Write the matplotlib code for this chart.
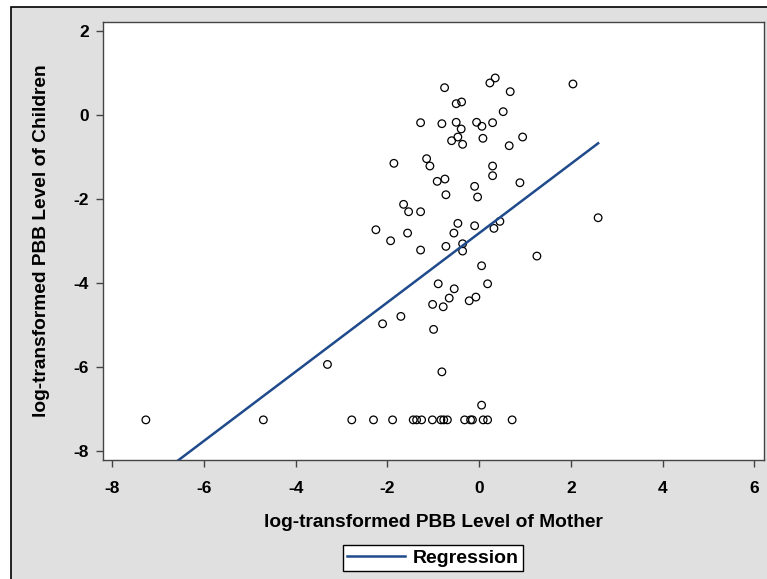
import matplotlib
matplotlib.use('Agg')
import matplotlib.pyplot as plt
from matplotlib.patches import Rectangle
import numpy as np

matplotlib.rcParams['font.family'] = ['Liberation Sans', 'DejaVu Sans']

# log-transformed PBB level of mother (x) and of child (y)
mother = [-0.755, 0.233, 0.349, 0.676, 2.044, -0.502, -0.384, 0.523,
          -1.278, -0.814, -0.502, -0.393, -0.057, 0.059, 0.292,
          -0.465, -0.602, -0.362, 0.081, 0.654, 0.947,
          -1.860, -1.147, -1.075, 0.292, 0.292, -0.748, -0.916,
          -0.100, -0.035, -0.726, 0.888,
          -1.649, -1.540, -1.278, -0.465, -0.100, 0.451, 0.321,
          -0.552, -1.562, -1.932, -2.253, -0.726, -0.362, -1.278,
          -0.362, 1.258, 2.593,
          0.052, -0.894, -0.545, 0.183, -0.654, -1.016, -0.785,
          -0.218, -0.072, -1.708, -2.107, -0.995, -0.814, -3.309, 0.052,
          -7.269, -4.707, -2.779, -2.305, -1.889, -1.439, -1.365, -1.256,
          -1.021, -0.835, -0.774, -0.694, -0.318, -0.188, -0.148, 0.087,
          0.183, 0.718]
children = [0.650, 0.762, 0.881, 0.555, 0.738, 0.269, 0.310, 0.079,
            -0.183, -0.207, -0.174, -0.333, -0.174, -0.269, -0.183,
            -0.524, -0.612, -0.698, -0.555, -0.731, -0.524,
            -1.150, -1.040, -1.214, -1.214, -1.445, -1.524, -1.579,
            -1.698, -1.952, -1.898, -1.612,
            -2.126, -2.302, -2.302, -2.579, -2.636, -2.531, -2.698,
            -2.810, -2.810, -2.993, -2.731, -3.126, -3.064, -3.214,
            -3.238, -3.357, -2.445,
            -3.588, -4.017, -4.136, -4.017, -4.357, -4.507, -4.564,
            -4.421, -4.333, -4.793, -4.969, -5.102, -6.112, -5.936, -6.905,
            -7.255, -7.255, -7.255, -7.255, -7.255, -7.255, -7.255, -7.255,
            -7.255, -7.255, -7.255, -7.255, -7.255, -7.255, -7.255, -7.255,
            -7.255, -7.255]

fit_intercept = -2.81
fit_slope = 0.824

xticks = [-8, -6, -4, -2, 0, 2, 4, 6]
yticks = [-8, -6, -4, -2, 0, 2]

W, H = 767, 579
fig = plt.figure(figsize=(W / 100, H / 100), dpi=100, facecolor='white')

# grey graph background with black border
bg = Rectangle((11 / W, -0.1), 1.2, 1 - 7 / H + 0.1, transform=fig.transFigure,
               facecolor='#e0e0e0', edgecolor='black', linewidth=1.2, zorder=-5)
fig.patches.append(bg)

ax = fig.add_axes([102.7 / W, 1 - 460 / H, (764 - 102.7) / W, (460 - 21.7) / H])
ax.set_facecolor('white')

ax.scatter(mother, children, s=30, facecolors='none', edgecolors='black',
           linewidths=0.9, zorder=3)

xs = np.array([min(mother), max(mother)])
line, = ax.plot(xs, fit_intercept + fit_slope * xs, color='#1f4a8c', lw=1.8,
                zorder=4, label='Regression')

ax.set_xlim(-8.21, 6.21)
ax.set_ylim(-8.21, 2.22)
ax.set_xticks(xticks)
ax.set_yticks(yticks)
ax.set_xticklabels([str(t) for t in xticks], fontsize=12.5, fontweight='bold')
ax.set_yticklabels([str(t) for t in yticks], fontsize=12.5, fontweight='bold')
ax.tick_params(direction='out', length=5, width=1, color='#444444')
ax.tick_params(axis='x', pad=10)
ax.tick_params(axis='y', pad=5)
for s in ax.spines.values():
    s.set_color('#444444')
    s.set_linewidth(1)

ax.set_xlabel('log-transformed PBB Level of Mother', fontsize=13.8, fontweight='bold', labelpad=13)
ax.set_ylabel('log-transformed PBB Level of Children', fontsize=13.8, fontweight='bold', labelpad=17)

leg = fig.legend(handles=[line], loc='center', bbox_to_anchor=(433 / W, 1 - 558 / H),
                 prop={'weight': 'bold', 'size': 14}, fancybox=False, framealpha=1,
                 handlelength=3.0, borderpad=0.2, handletextpad=0.4)
leg.get_frame().set_edgecolor('black')
leg.get_frame().set_facecolor('white')
leg.get_frame().set_linewidth(1)

fig.savefig('out.png', dpi=100, facecolor='white')
